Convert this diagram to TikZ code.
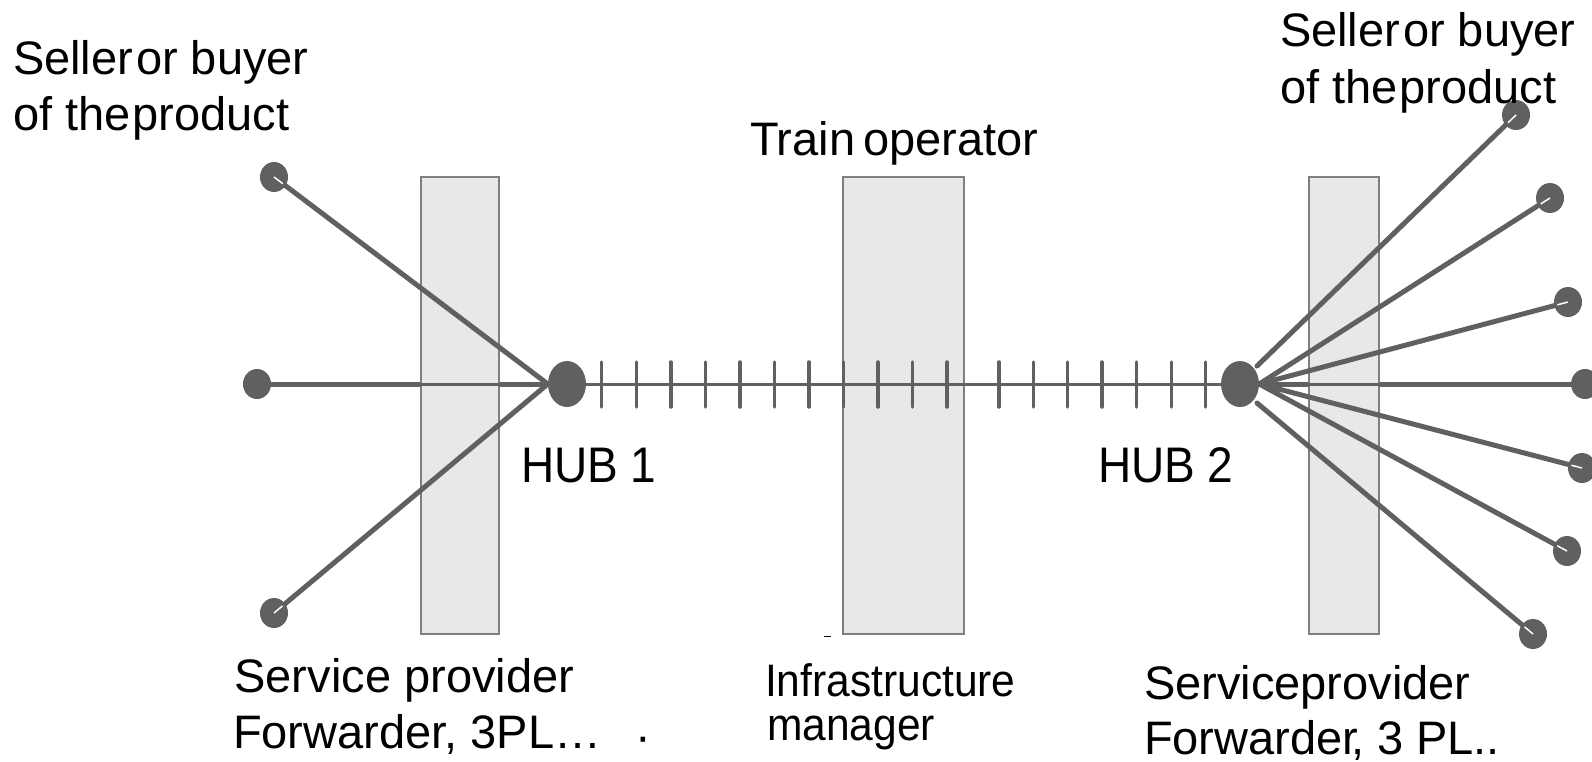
\documentclass[tikz,border=0pt]{standalone}
\usepackage{graphicx}
\usepackage{fontspec}
\setmainfont{Liberation Sans}
\usetikzlibrary{shapes.geometric,calc}
\definecolor{ink}{HTML}{606060}
\definecolor{bandfill}{HTML}{E8E8E8}
\definecolor{bandline}{HTML}{7F7F7F}
\tikzset{
  band/.style={rectangle,draw=bandline,fill=bandfill,line width=1.5pt,minimum width=#1,minimum height=457pt,inner sep=0pt},
  enddot/.style={ellipse,fill=ink,minimum width=28pt,minimum height=30pt,inner sep=0pt},
  hubdot/.style={ellipse,fill=ink,minimum width=38pt,minimum height=46pt,inner sep=0pt},
  spoke/.style={draw=ink,line width=5pt,line cap=round},
  thinspoke/.style={draw=ink,line width=3pt},
  rail/.style={draw=ink,line width=3pt},
  tie/.style={draw=ink,line width=3.5pt,line cap=round},
  shine/.style={draw=white,line width=1.5pt},
  lbl/.style={anchor=base west,inner sep=0pt,outer sep=0pt,text=black,font=\fontsize{47}{56}\selectfont},
}
\begin{document}
\begin{tikzpicture}[x=1pt,y=-1pt]
\useasboundingbox (0,0) rectangle (1592,761);
% end points and hubs
\node[enddot] (l1) at (274,177) {};
\node[enddot] (l2) at (257,384) {};
\node[enddot] (l3) at (274,613) {};
\node[hubdot] (hub1) at (567,384) {};
\node[hubdot] (hub2) at (1240,384) {};
\node[enddot] (r1) at (1516,115) {};
\node[enddot] (r2) at (1550,198) {};
\node[enddot] (r3) at (1568,302) {};
\node[enddot] (r4) at (1585,384) {};
\node[enddot] (r5) at (1582,468) {};
\node[enddot] (r6) at (1567,551) {};
\node[enddot] (r7) at (1533,634) {};
\coordinate (s1) at (1257,366);
\coordinate (s7) at (1257,403);
% thick horizontal spokes (under the bands)
\draw[spoke] (l2.center) -- (hub1.west);
\draw[spoke] (hub2.east) -- (r4.center);
% bands
\node[band=78pt] (bandA) at (460,405.5) {};
\node[band=121pt] (bandB) at (903.5,405.5) {};
\node[band=70pt] (bandC) at (1344,405.5) {};
% thin parts over the bands
\draw[thinspoke] (l2.center) -- (hub1.west);
\draw[thinspoke] (hub2.east) -- (r4.center);
% rail between hubs
\draw[rail] (hub1) -- (hub2);
\foreach \x in {601.7,636.3,670.8,705.4,739.9,774.5,809,843.6,878.1,912.7,947.2,999,1033.4,1067.7,1102,1136.6,1171.4,1205.7}
  \draw[tie] (\x,362) -- (\x,407);
% diagonal spokes
\draw[spoke] (l1.center) -- (hub1.west);
\draw[spoke] (l3.center) -- (hub1.west);
\draw[spoke] (s1) -- (r1.center);
\draw[spoke] (hub2.east) -- (r2.center);
\draw[spoke] (hub2.east) -- (r3.center);
\draw[spoke] (hub2.east) -- (r5.center);
\draw[spoke] (hub2.east) -- (r6.center);
\draw[spoke] (s7) -- (r7.center);
% highlights in the end dots
\draw[shine] (l1.center) -- ($(l1.center)!11pt!(hub1.west)$);
\draw[shine] (l3.center) -- ($(l3.center)!11pt!(hub1.west)$);
\draw[shine] (r1.center) -- ($(r1.center)!11pt!(s1)$);
\draw[shine] (r2.center) -- ($(r2.center)!11pt!(hub2.east)$);
\draw[shine] (r3.center) -- ($(r3.center)!11pt!(hub2.east)$);
\draw[shine] (r5.center) -- ($(r5.center)!11pt!(hub2.east)$);
\draw[shine] (r6.center) -- ($(r6.center)!11pt!(hub2.east)$);
\draw[shine] (r7.center) -- ($(r7.center)!11pt!(s7)$);
% stray mark
\draw[black,line width=1.2pt] (824,636.5) -- (831,636.5);
% labels
\node[lbl] (tlA) at (13,74) {Seller\kern3pt or buyer};
\node[lbl] (tlB) at (13,130.5) {of the\kern2pt product};
\node[lbl] (trA) at (1280,46.7) {Seller\kern3pt or buyer};
\node[lbl] (trB) at (1280,103.3) {of the\kern2pt product};
\node[lbl] (train) at (750,155) {Train\kern8pt operator};
\node[lbl,font=\fontsize{50}{56}\selectfont] (hubAlbl) at (521,482) {\scalebox{0.92}[1]{HUB 1}};
\node[lbl,font=\fontsize{50}{56}\selectfont] (hubBlbl) at (1098,482) {\scalebox{0.92}[1]{HUB 2}};
\node[lbl] (blA) at (234.5,692.7) {Service provider};
\node[lbl] (blB) at (233,748) {Forwarder, 3PL…\kern34pt\raisebox{-4pt}{·}};
\node[lbl,font=\fontsize{45.5}{50}\selectfont] (imA) at (765,696) {\scalebox{0.935}[1]{Infrastructure}};
\node[lbl,font=\fontsize{45.5}{50}\selectfont] (imB) at (767,740.5) {\scalebox{0.935}[1]{manager}};
\node[lbl] (brA) at (1144,699) {Serviceprovider};
\node[lbl] (brB) at (1144,754) {Forwarder\kern-7pt, 3 PL..};
\end{tikzpicture}
\end{document}
